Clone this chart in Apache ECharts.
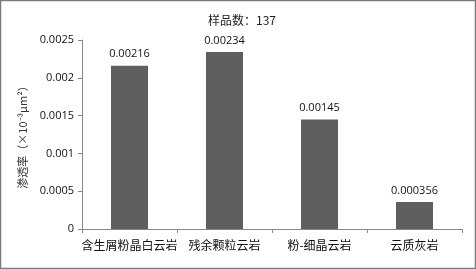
<!DOCTYPE html>
<html><head><meta charset="utf-8">
<script src="https://cdn.jsdelivr.net/npm/echarts@6/dist/echarts.min.js"></script>
<style>html,body{margin:0;padding:0;background:#fff}#c{width:476px;height:269px}</style>
</head><body><div id="c"></div>
<script>
const categories = ['含生屑粉晶白云岩', '残余颗粒云岩', '粉-细晶云岩', '云质灰岩'];
const values = [0.00216, 0.00234, 0.00145, 0.000356];
const valueLabels = ['0.00216', '0.00234', '0.00145', '0.000356'];
const yTicks = ['0', '0.0005', '0.001', '0.0015', '0.002', '0.0025'];
const titleText = '样品数：137';
const yName = '渗透率（×10⁻³μm²）';

const chart = echarts.init(document.getElementById('c'), null, {renderer: 'canvas'});
chart.setOption({
  animation: false,
  backgroundColor: '#fff',
  title: {text: titleText, left: 237, top: 9, textAlign: 'center',
    textStyle: {fontFamily: 'Noto Sans CJK SC', fontSize: 12, fontWeight: 'normal', color: '#222'}},
  graphic: [{type: 'rect', shape: {x: 0.5, y: 0.5, width: 475, height: 268},
    style: {fill: 'none', stroke: '#7a7a7a', lineWidth: 1.5}, silent: true}],
  grid: {left: 82, right: 14, top: 40, bottom: 40},
  xAxis: {type: 'category', data: categories,
    axisLine: {lineStyle: {color: '#888', width: 1}},
    axisTick: {show: true, alignWithLabel: false, length: 4, lineStyle: {color: '#888'}},
    axisLabel: {color: '#111', fontSize: 12, fontFamily: 'Noto Sans CJK SC', margin: 10, interval: 0}},
  yAxis: {type: 'value', min: 0, max: 0.0025, interval: 0.0005,
    name: yName, nameLocation: 'middle', nameGap: 53, nameRotate: 90,
    nameTextStyle: {color: '#333', fontSize: 11, fontFamily: 'Noto Sans CJK SC'},
    axisLine: {show: true, lineStyle: {color: '#888', width: 1}},
    axisTick: {show: true, inside: false, length: 4, lineStyle: {color: '#888'}},
    splitLine: {show: false},
    axisLabel: {color: '#111', fontSize: 11, fontFamily: 'Open Sans', margin: 8,
      formatter: (v) => yTicks[Math.round(v / 0.0005)]}},
  series: [{type: 'bar', data: values, barWidth: 37,
    itemStyle: {color: '#5f5f5f'},
    label: {show: true, position: 'top', distance: 6, color: '#111', fontSize: 11, fontFamily: 'Open Sans',
      formatter: (p) => valueLabels[p.dataIndex]}}]
});
</script></body></html>
